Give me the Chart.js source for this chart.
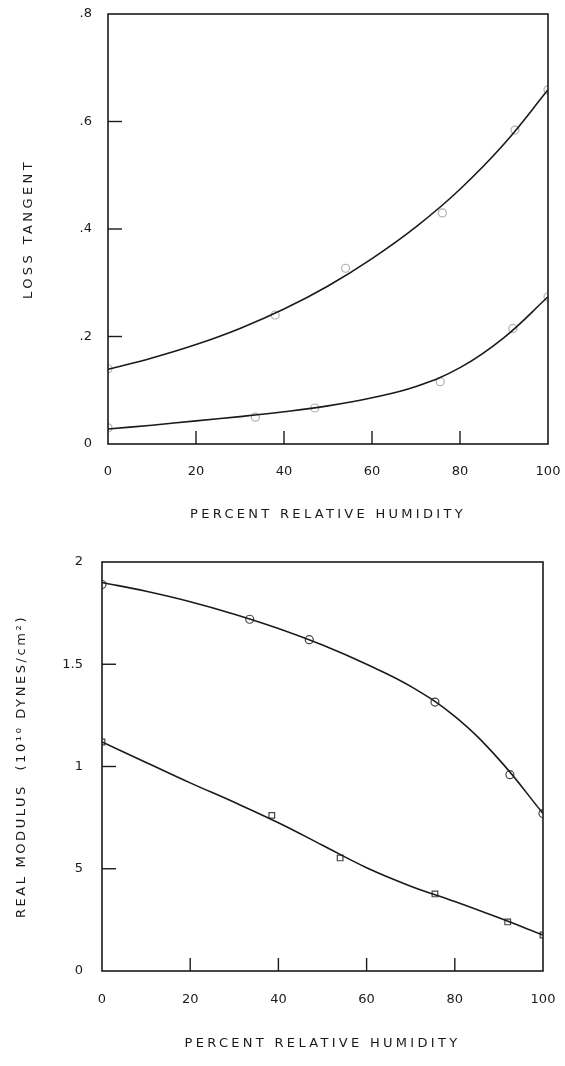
<!DOCTYPE html>
<html>
<head>
<meta charset="utf-8">
<script src="https://cdn.jsdelivr.net/npm/chart.js@4.4.1/dist/chart.umd.min.js"></script>
<style>
  body { margin: 0; background: #fff; }
  canvas { display: block; }
</style>
</head>
<body>
<canvas id="loss-tangent" width="565" height="530"></canvas>
<canvas id="real-modulus" width="565" height="536"></canvas>
<script>
// x positions of the smooth curves (read every 10 %RH)
const curveHumidity = [0, 10, 20, 30, 40, 50, 60, 70, 80, 90, 100];

// top plot - loss tangent
const lossUpperHumidity = [0, 38, 54, 76, 92.5, 100];
const lossUpperPoints = [0.14, 0.24, 0.327, 0.43, 0.584, 0.659];
const lossUpperCurve = [0.139, 0.160, 0.185, 0.215, 0.251, 0.294, 0.345, 0.404, 0.474, 0.558, 0.659];

const lossLowerHumidity = [0, 33.5, 47, 75.5, 92, 100];
const lossLowerPoints = [0.03, 0.05, 0.067, 0.116, 0.215, 0.274];
const lossLowerCurve = [0.028, 0.035, 0.043, 0.051, 0.060, 0.071, 0.086, 0.107, 0.142, 0.198, 0.274];

const lossTicks = [0, 0.2, 0.4, 0.6, 0.8];
const lossTickLabels = ['0', '.2', '.4', '.6', '.8'];

// bottom plot - real modulus
const modUpperHumidity = [0, 33.5, 47, 75.5, 92.5, 100];
const modUpperPoints = [1.89, 1.72, 1.62, 1.315, 0.96, 0.77];
const modUpperCurve = [1.90, 1.857, 1.806, 1.745, 1.675, 1.594, 1.50, 1.392, 1.245, 1.035, 0.77];

const modLowerHumidity = [0, 38.5, 54, 75.5, 92, 100];
const modLowerPoints = [1.12, 0.761, 0.553, 0.377, 0.24, 0.176];
const modLowerCurve = [1.12, 1.02, 0.92, 0.825, 0.725, 0.615, 0.505, 0.415, 0.34, 0.26, 0.176];

const modTicks = [0, 0.5, 1, 1.5, 2];
const modTickLabels = ['0', '5', '1', '1.5', '2'];

const humidityTicks = [0, 20, 40, 60, 80, 100];

const ink = '#1a1a1a';
const fontFamily = "'DejaVu Sans', sans-serif";

const pairs = (xs, ys) => xs.map((x, i) => ({ x, y: ys[i] }));

// box round the plot + short ticks pointing inwards
const frameAndTicks = {
  id: 'frameAndTicks',
  afterDatasetsDraw(chart) {
    const { ctx, chartArea: a, scales } = chart;
    ctx.save();
    ctx.strokeStyle = ink;
    ctx.lineWidth = 1.6;
    ctx.strokeRect(a.left, a.top, a.right - a.left, a.bottom - a.top);
    ctx.lineWidth = 1.4;
    scales.x.ticks.slice(1, -1).forEach(t => {
      const px = scales.x.getPixelForValue(t.value);
      ctx.beginPath();
      ctx.moveTo(px, a.bottom);
      ctx.lineTo(px, a.bottom - 13);
      ctx.stroke();
    });
    scales.y.ticks.slice(1, -1).forEach(t => {
      const py = scales.y.getPixelForValue(t.value);
      ctx.beginPath();
      ctx.moveTo(a.left, py);
      ctx.lineTo(a.left + 14, py);
      ctx.stroke();
    });
    ctx.restore();
  }
};

// the axis titles are typed with wide letter spacing
const spacedTitles = {
  id: 'spacedTitles',
  beforeDraw(chart) {
    Object.values(chart.scales).forEach(scale => {
      if (scale._spaced) return;
      const orig = scale.drawTitle;
      scale.drawTitle = function () {
        this.ctx.save();
        this.ctx.letterSpacing = (this.options.title.spacing || 0) + 'px';
        orig.call(this);
        this.ctx.restore();
      };
      scale._spaced = true;
    });
  }
};

// fixed axis boxes so the plot sits where the original one does
const fixBox = (size, key) => (scale) => {
  scale[key] = size;
  scale.paddingLeft = scale.paddingRight = scale.paddingTop = scale.paddingBottom = 0;
};

const curveSet = (xs, ys) => ({
  data: pairs(xs, ys),
  borderColor: ink,
  borderWidth: 1.6,
  pointRadius: 0,
  tension: 0.4,  // smooth lines
  showLine: true,
  fill: false
});

const markerSet = (xs, ys, style, color) => ({
  data: pairs(xs, ys),
  showLine: false,
  pointStyle: style,
  pointRadius: 4,
  pointBorderWidth: 1.2,
  pointBorderColor: color,
  pointBackgroundColor: 'rgba(0,0,0,0)'
});

function makeChart(id, opts) {
  return new Chart(document.getElementById(id).getContext('2d'), {
    type: 'scatter',
    data: { datasets: opts.datasets },
    options: {
      responsive: false,
      animation: false,
      devicePixelRatio: 1,
      layout: { padding: opts.padding },
      plugins: { legend: { display: false }, tooltip: { enabled: false } },
      scales: {
        x: {
          type: 'linear',
          min: 0,
          max: 100,
          afterBuildTicks: (scale) => { scale.ticks = humidityTicks.map(v => ({ value: v })); },
          afterFit: fixBox(opts.xHeight, 'height'),
          grid: { display: false, drawTicks: false },
          border: { display: false },
          ticks: { color: ink, padding: opts.xTickPad, font: { family: fontFamily, size: 13 } },
          title: {
            display: true,
            text: 'PERCENT RELATIVE HUMIDITY',
            color: ink,
            spacing: 3.3,
            padding: { top: 0, bottom: opts.xTitlePad },
            font: { family: fontFamily, size: 13 }
          }
        },
        y: {
          type: 'linear',
          min: opts.yTicks[0],
          max: opts.yTicks[opts.yTicks.length - 1],
          afterBuildTicks: (scale) => { scale.ticks = opts.yTicks.map(v => ({ value: v })); },
          afterFit: fixBox(opts.yWidth, 'width'),
          grid: { display: false, drawTicks: false },
          border: { display: false },
          ticks: {
            color: ink,
            padding: opts.yTickPad,
            font: { family: fontFamily, size: 13 },
            callback: (v) => opts.yLabels[opts.yTicks.indexOf(v)]
          },
          title: {
            display: true,
            text: opts.yTitle,
            color: ink,
            spacing: opts.yTitleSpacing,
            padding: { top: opts.yTitlePad, bottom: 0 },
            font: { family: fontFamily, size: 13 }
          }
        }
      }
    },
    plugins: [frameAndTicks, spacedTitles]
  });
}

makeChart('loss-tangent', {
  datasets: [
    curveSet(curveHumidity, lossUpperCurve),
    curveSet(curveHumidity, lossLowerCurve),
    markerSet(lossUpperHumidity, lossUpperPoints, 'circle', '#b0b0b0'),
    markerSet(lossLowerHumidity, lossLowerPoints, 'circle', '#b0b0b0')
  ],
  padding: { top: 14, right: 17, bottom: 0, left: 0 },
  xHeight: 86,
  yWidth: 108,
  xTickPad: 20,
  xTitlePad: 8,
  yTickPad: 16,
  yTitlePad: 21,
  yTitleSpacing: 3.4,
  yTicks: lossTicks,
  yLabels: lossTickLabels,
  yTitle: 'LOSS TANGENT'
});

makeChart('real-modulus', {
  datasets: [
    curveSet(curveHumidity, modUpperCurve),
    curveSet(curveHumidity, modLowerCurve),
    markerSet(modUpperHumidity, modUpperPoints, 'circle', '#444'),
    markerSet(modLowerHumidity, modLowerPoints, 'rect', '#444')
  ],
  padding: { top: 32, right: 22, bottom: 0, left: 0 },
  xHeight: 95,
  yWidth: 102,
  xTickPad: 21,
  xTitlePad: 15,
  yTickPad: 19,
  yTitlePad: 14,
  yTitleSpacing: 2.6,
  yTicks: modTicks,
  yLabels: modTickLabels,
  yTitle: 'REAL MODULUS  (10\u00B9\u2070 DYNES/cm\u00B2)'
});
</script>
</body>
</html>
